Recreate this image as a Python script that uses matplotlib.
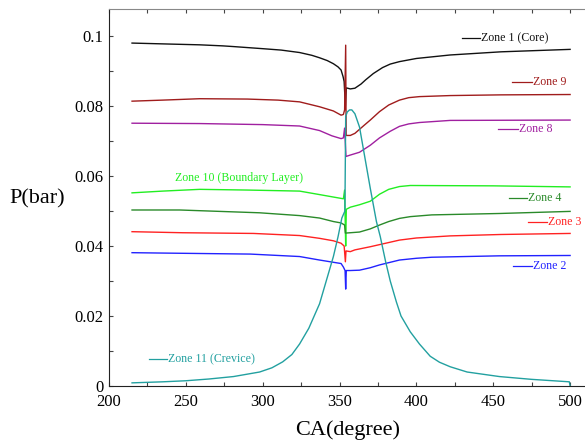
import matplotlib
matplotlib.use('Agg')
import matplotlib.pyplot as plt
from matplotlib.ticker import MultipleLocator, FuncFormatter

plt.rcParams['font.family'] = ['Liberation Serif', 'DejaVu Serif']

# pressure traces (CA in degree, P in bar)
ca_z1 = [215, 241, 259, 274, 281, 300, 312, 324, 332, 337, 342, 346, 349, 351, 352.3,
         353.0, 353.8, 354.4, 357, 360, 364, 367, 372, 378, 383, 389, 400, 422, 455, 500]
p_z1 = [0.0980, 0.0977, 0.0975, 0.0972, 0.0970, 0.0964, 0.0960, 0.0953, 0.0945, 0.0938,
        0.0930, 0.0921, 0.0912, 0.0903, 0.0884, 0.0870, 0.0800, 0.0852, 0.0849, 0.0851,
        0.0863, 0.0875, 0.0893, 0.0910, 0.0920, 0.0927, 0.0936, 0.0946, 0.0955, 0.0962]

ca_z9 = [215, 235, 259, 290, 310, 324, 337, 346, 351, 352.5, 353.3, 354.0, 354.3,
         357, 360, 366, 370, 376, 382, 389, 395, 402, 422, 455, 500]
p_z9 = [0.0814, 0.0817, 0.0821, 0.0820, 0.0817, 0.0812, 0.0798, 0.0786, 0.0774, 0.0776,
        0.0789, 0.0974, 0.0716, 0.0716, 0.0722, 0.0745, 0.0760, 0.0784, 0.0803, 0.0817,
        0.0824, 0.0827, 0.0830, 0.0832, 0.0833]

ca_z8 = [215, 259, 300, 324, 337, 345, 351, 352.5, 353.3, 354.2, 357, 363, 370, 376,
         383, 389, 395, 402, 422, 500]
p_z8 = [0.0751, 0.0750, 0.0747, 0.0743, 0.0730, 0.0715, 0.0707, 0.0709, 0.0737, 0.0656,
        0.0660, 0.0668, 0.0688, 0.0709, 0.0728, 0.0742, 0.0749, 0.0753, 0.0759, 0.0760]

ca_z10 = [215, 235, 259, 290, 324, 337, 346, 352.5, 353.3, 354.0, 354.4, 357, 363, 370,
          376, 382, 389, 396, 450, 500]
p_z10 = [0.0552, 0.0557, 0.0562, 0.0560, 0.0557, 0.0547, 0.0540, 0.0535, 0.0560, 0.0400,
         0.0505, 0.0511, 0.0518, 0.0528, 0.0548, 0.0562, 0.0570, 0.0573, 0.0572, 0.0569]

ca_z4 = [215, 246, 298, 324, 337, 346, 351, 353.3, 353.8, 357, 363, 370, 376, 382, 389,
         396, 410, 454, 500]
p_z4 = [0.0503, 0.0503, 0.0495, 0.0487, 0.0480, 0.0470, 0.0466, 0.0460, 0.0437, 0.0438,
        0.0440, 0.0449, 0.0460, 0.0470, 0.0479, 0.0484, 0.0489, 0.0493, 0.0499]

ca_z3 = [215, 248, 294, 324, 337, 346, 351, 353, 353.8, 354.2, 357, 360, 370, 380, 389,
         400, 422, 455, 500]
p_z3 = [0.0441, 0.0438, 0.0436, 0.0430, 0.0422, 0.0415, 0.0408, 0.0400, 0.0355, 0.0386,
        0.0384, 0.0389, 0.0398, 0.0408, 0.0417, 0.0423, 0.0429, 0.0433, 0.0436]

ca_z2 = [215, 233, 292, 324, 337, 344, 351, 352.5, 353.6, 354.0, 354.4, 357, 363, 370,
         376, 389, 400, 410, 454, 500]
p_z2 = [0.0381, 0.0380, 0.0377, 0.0370, 0.0360, 0.0355, 0.0350, 0.0340, 0.0330, 0.0277,
        0.0330, 0.0330, 0.0331, 0.0338, 0.0346, 0.0360, 0.0365, 0.0368, 0.0372, 0.0373]

ca_z11 = [215, 235, 250, 265, 281, 298, 306, 313, 319, 324, 330, 337, 343, 346, 349,
          351.5, 353.5, 354.0, 355, 356.5, 358, 360, 363, 366.6, 370, 374, 376.5, 380,
          383, 387, 390, 396, 402, 409, 415, 422, 433, 454, 475, 499.5, 500]
p_z11 = [0.0009, 0.0012, 0.0015, 0.0020, 0.0027, 0.0040, 0.0052, 0.0069, 0.0090, 0.0120,
         0.0165, 0.0235, 0.0325, 0.0370, 0.0426, 0.0480, 0.0500, 0.0770, 0.0783, 0.0789,
         0.0789, 0.0778, 0.0740, 0.0650, 0.0565, 0.0470, 0.0427, 0.0355, 0.0300, 0.0240,
         0.0200, 0.0155, 0.0120, 0.0085, 0.0068, 0.0055, 0.0040, 0.0027, 0.0019, 0.0012,
         0.0]

names = ['Zone 1 (Core)', 'Zone 9', 'Zone 8', 'Zone 10 (Boundary Layer)', 'Zone 4',
         'Zone 3', 'Zone 2', 'Zone 11 (Crevice)']
colors = ['#111111', '#a01c1c', '#a020a0', '#22ee22', '#2a8a2a', '#ff2222', '#2222ff',
          '#22a0a0']
series = [(ca_z1, p_z1), (ca_z9, p_z9), (ca_z8, p_z8), (ca_z10, p_z10), (ca_z4, p_z4),
          (ca_z3, p_z3), (ca_z2, p_z2), (ca_z11, p_z11)]

# label placement: (x start of the short line, x end, y); None = no line
label_pos = [(429.7, 441.4, 0.0995), (462.2, 475.2, 0.0868), (453.1, 466.1, 0.0734),
             (None, 243.0, 0.0594), (460.2, 471.9, 0.0536), (472.6, 485.0, 0.0468),
             (462.9, 475.2, 0.0343), (226.0, 237.7, 0.0077)]

fig = plt.figure(figsize=(5.85, 4.41), dpi=100)
ax = fig.add_axes([0.1863, 0.1247, 0.8137, 0.8538])

for (x, y), c in zip(series, colors):
    ax.plot(x, y, color=c, lw=1.0)

for name, c, (x0, x1, yl) in zip(names, colors, label_pos):
    if x0 is not None:
        ax.plot([x0, x1], [yl, yl], color=c, lw=0.9)
        ax.text(x1 + 0.5, yl, name, color=c, fontsize=8.6, va='center', ha='left')
    else:
        ax.text(x1, yl, name, color=c, fontsize=8.6, va='center', ha='left')

ax.set_xlim(200, 509.7)
ax.set_ylim(0, 0.1076)
ax.xaxis.set_major_locator(MultipleLocator(50))
ax.xaxis.set_minor_locator(MultipleLocator(25))
ax.yaxis.set_major_locator(MultipleLocator(0.02))
ax.yaxis.set_minor_locator(MultipleLocator(0.01))
ax.yaxis.set_major_formatter(FuncFormatter(lambda v, p: '%g' % round(v, 4)))

ax.tick_params(which='both', direction='in', top=True, right=False, labelsize=12,
               length=3, width=0.8, color='#444444')
ax.tick_params(axis='y', pad=4)
ax.tick_params(axis='x', pad=6)

ax.spines['right'].set_visible(False)
ax.spines['top'].set_color('#888888')
ax.spines['left'].set_color('#222222')
ax.spines['bottom'].set_color('#222222')

ax.set_xlabel('CA(degree)', fontsize=16)
ax.set_ylabel('P(bar)', fontsize=16, rotation=0)
ax.xaxis.set_label_coords(0.502, -0.117)
ax.xaxis.label.set_va('center')
ax.yaxis.set_label_coords(-0.151, 0.497)
ax.yaxis.label.set_va('center')
ax.yaxis.label.set_ha('center')

fig.savefig('out.png', dpi=100)
